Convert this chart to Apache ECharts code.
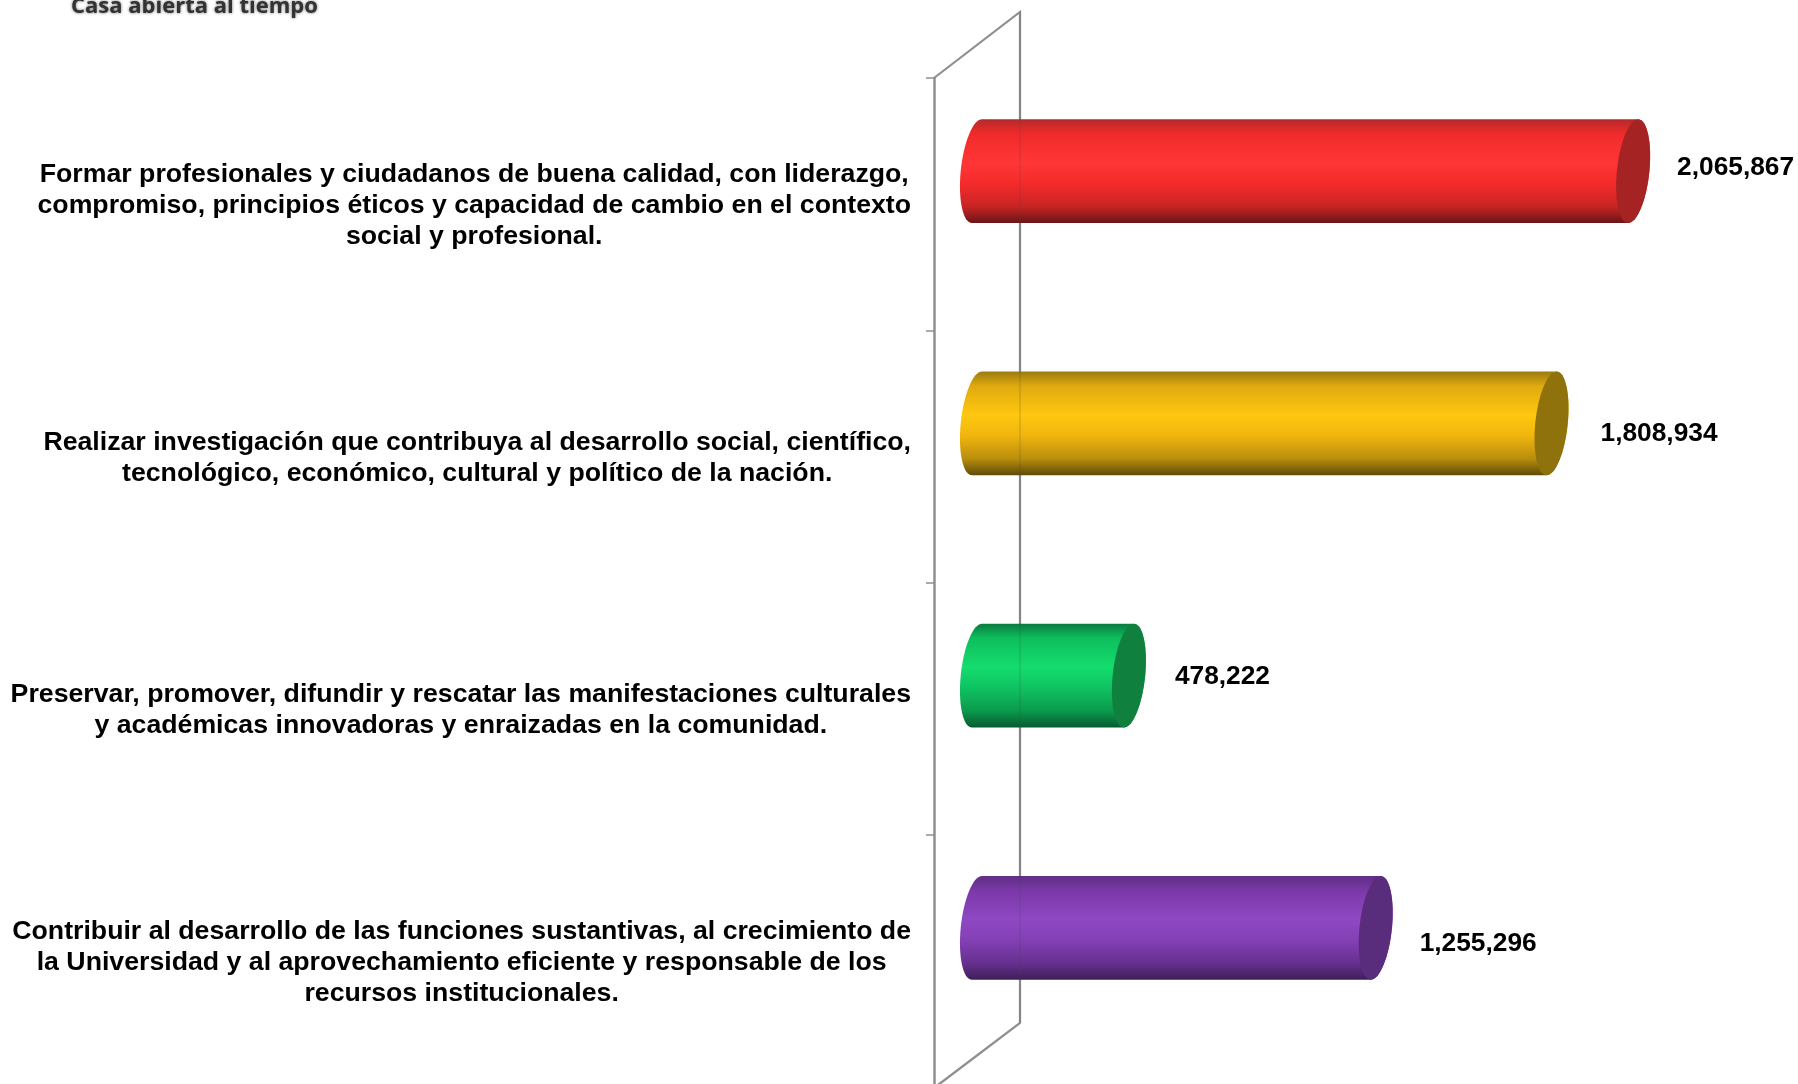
<!DOCTYPE html>
<html>
<head>
<meta charset="utf-8">
<title>Objetivos</title>
<style>
html,body{margin:0;padding:0;background:#fff;overflow:hidden}
#main{width:1798px;height:1100px}
</style>
<script src="https://cdn.jsdelivr.net/npm/echarts@6/dist/echarts.min.js"></script>
</head>
<body>
<div id="main"></div>
<script>
var categories = [
    ['Formar profesionales y ciudadanos de buena calidad, con liderazgo,', 'compromiso, principios éticos y capacidad de cambio en el contexto', 'social y profesional.'],
    ['Realizar investigación que contribuya al desarrollo social, científico,', 'tecnológico, económico, cultural y político de la nación.'],
    ['Preservar, promover, difundir y rescatar las manifestaciones culturales', 'y académicas innovadoras y enraizadas en la comunidad.'],
    ['Contribuir al desarrollo de las funciones sustantivas, al crecimiento de', 'la Universidad y al aprovechamiento eficiente y responsable de los', 'recursos institucionales.']
];
var values = [2065867, 1808934, 478222, 1255296];
var valueLabels = ['2,065,867', '1,808,934', '478,222', '1,255,296'];

// colores del cilindro de arriba hacia abajo, el ultimo es la tapa
var barColors = [
    ['#b52a2a', '#f02a2a', '#ff3636', '#f52b2b', '#c82424', '#6a1515', '#a62323'],
    ['#9a7a10', '#e0aa0e', '#ffc710', '#f0b50e', '#b98e0c', '#5f4a08', '#8f720c'],
    ['#0a7a40', '#0dbf5c', '#14dc6e', '#0fc261', '#0b9a4c', '#075a30', '#10803f'],
    ['#5f2f85', '#7a38a8', '#8f48c4', '#8340b4', '#66308f', '#3d1f57', '#5a2c7c']
];
var depthShift = 33;   // las barras van a media profundidad de la pared
var labelShift = [[2, -3], [7, 10], [4, 1], [2, 16]];

var chart = echarts.init(document.getElementById('main'));

function ellipsePoints(cx, cy, rx, ry, lean, from, to) {
    var pts = [];
    for (var i = 0; i <= 32; i++) {
        var t = (from + (to - from) * i / 32) * Math.PI / 180;
        pts.push([cx + rx * Math.cos(t) - lean * Math.sin(t), cy + ry * Math.sin(t)]);
    }
    return pts;
}

function renderCylinder(params, api) {
    var idx = api.value(2);
    var start = api.coord([0, idx]);
    var end = api.coord([api.value(0), idx]);
    var cy = start[1] - depthShift;
    var ry = api.size([0, 1])[1] * 0.206;
    var c = barColors[idx];
    var body = ellipsePoints(start[0], cy, 16.3, ry, 5, 270, 90)
        .concat(ellipsePoints(end[0], cy, 16.3, ry, 5, 90, -90));
    return {
        type: 'group',
        children: [{
            type: 'polygon',
            shape: {points: body},
            style: {
                fill: new echarts.graphic.LinearGradient(0, 0, 0, 1, [
                    {offset: 0, color: c[0]},
                    {offset: 0.14, color: c[1]},
                    {offset: 0.42, color: c[2]},
                    {offset: 0.62, color: c[3]},
                    {offset: 0.84, color: c[4]},
                    {offset: 1, color: c[5]}
                ])
            }
        }, {
            type: 'polygon',
            shape: {points: ellipsePoints(end[0], cy, 16.3, ry, 5, 0, 360)},
            style: {fill: c[6]}
        }, {
            type: 'text',
            style: {
                x: end[0] + 17 + 25 + labelShift[idx][0],
                y: cy + labelShift[idx][1],
                text: valueLabels[idx],
                fill: '#000',
                font: 'bold 26.3px "Liberation Sans", Arial, sans-serif',
                textAlign: 'left',
                textVerticalAlign: 'middle'
            }
        }]
    };
}

chart.setOption({
    animation: false,
    backgroundColor: '#fff',
    grid: {left: 977, right: 27, top: 78, height: 1009},
    xAxis: {type: 'value', min: 0, max: 2500000, show: false},
    yAxis: {
        type: 'category',
        inverse: true,
        offset: 43,
        data: categories.map(function (lines) { return lines.join('\n'); }),
        axisLine: {onZero: false, lineStyle: {color: '#8f8f8f', width: 2.5}},
        axisTick: {show: true, length: 8, lineStyle: {color: '#8f8f8f', width: 1.5}},
        axisLabel: {
            interval: 0,
            margin: 23,
            padding: [3, 0, 0, 0],
            align: 'right',
            formatter: function (v) {
                return v.split('\n').map(function (l) { return '{c|' + l + '}'; }).join('\n');
            },
            rich: {
                c: {
                    align: 'center',
                    color: '#000',
                    fontFamily: '"Liberation Sans", Arial, sans-serif',
                    fontWeight: 'bold',
                    fontSize: 26.7,
                    lineHeight: 31
                }
            }
        }
    },
    graphic: [{
        type: 'polyline',
        shape: {points: [[934, 78], [1020, 12], [1020, 1023], [934, 1088]]},
        style: {stroke: '#8f8f8f', lineWidth: 2.2, fill: 'none'},
        silent: true
    }, {
        // la pared de atras se transparenta un poco en las barras
        type: 'line',
        z: 5,
        shape: {x1: 1020, y1: 12, x2: 1020, y2: 1023},
        style: {stroke: 'rgba(70,70,70,0.14)', lineWidth: 2.2},
        silent: true
    }, {
        type: 'text',
        x: 71,
        y: 7,
        style: {
            text: 'Casa abierta al tiempo',
            fill: '#333',
            font: 'bold 22px "Open Sans", "Liberation Sans", sans-serif',
            textVerticalAlign: 'middle',
            textShadowColor: 'rgba(40,40,40,0.7)',
            textShadowBlur: 3
        },
        silent: true
    }],
    series: [{
        type: 'custom',
        renderItem: renderCylinder,
        encode: {x: 0, y: 1},
        data: values.map(function (v, i) { return [v, i, i]; })
    }]
});
</script>
</body>
</html>
